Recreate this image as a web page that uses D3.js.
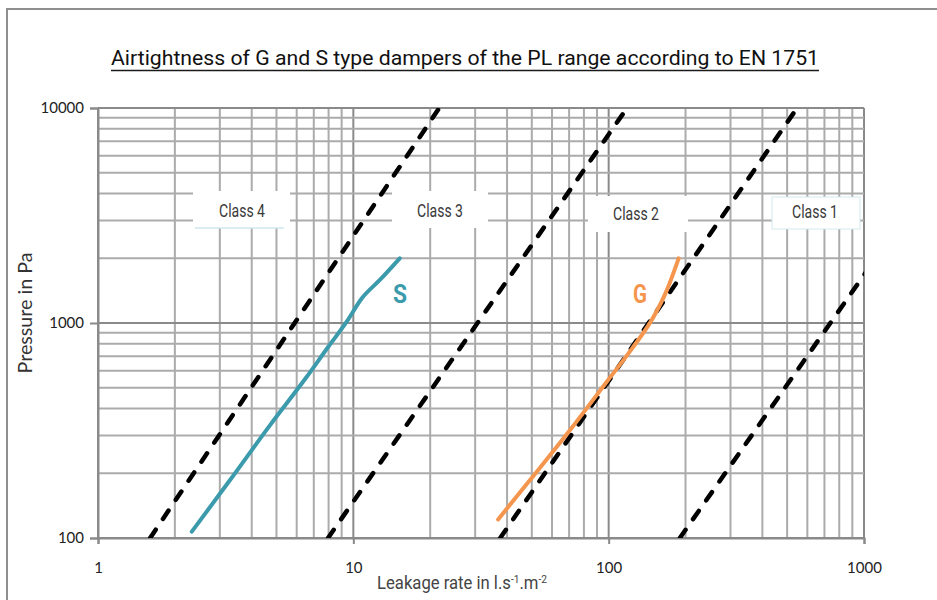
<!DOCTYPE html>
<html>
<head>
<meta charset="utf-8">
<script src="https://cdn.jsdelivr.net/npm/d3@7"></script>
<style>
  body { margin: 0; background: #fff; }
  .narrow { font-family: Roboto, "Liberation Sans", sans-serif; }
  .tick text { font-family: Lato, "Open Sans", sans-serif; }
</style>
</head>
<body>
<svg id="chart" width="937" height="600"></svg>
<script>
// Axis ticks and labels
const xTickValues = [1, 10, 100, 1000];
const xTickLabels = ["1", "10", "100", "1000"];
const yTickValues = [100, 1000, 10000];
const yTickLabels = ["100", "1000", "10000"];

// EN 1751 class limits: leakage (l/s/m²) at the two ends of the pressure range
const classNames = ["Class 4", "Class 3", "Class 2", "Class 1"];
const classPressure = [100, 10000];
const class4Leakage = [1.6, 21.7];
const class3Leakage = [7.96, 118];
const class2Leakage = [37.6, 547];
const class1Leakage = [190, 2870];

// Measured damper leakage: S type
const sLeakage  = [2.33, 3.29, 4.72, 6.57, 7.98, 9.42, 10.8, 12.7, 15.2];
const sPressure = [107, 186, 335, 562, 775, 1014, 1303, 1585, 2000];
// Measured damper leakage: G type
const gLeakage  = [36.9, 49.2, 70.6, 98.3, 125, 150, 169, 188];
const gPressure = [122, 186, 318, 533, 776, 1069, 1422, 2000];

const svg = d3.select("#chart");
const plotLeft = 98, plotRight = 864, plotTop = 108, plotBottom = 538;

const x = d3.scaleLog().domain([1, 1000]).range([plotLeft, plotRight]);
const y = d3.scaleLog().domain([100, 10000]).range([plotBottom, plotTop]);

// outer frame
svg.append("rect").attr("x", 7).attr("y", 9).attr("width", 1000).attr("height", 1000)
  .attr("fill", "none").attr("stroke", "#8f8f8f").attr("stroke-width", 2);

// title
svg.append("text").attr("class", "narrow")
  .attr("x", 465).attr("y", 65).attr("text-anchor", "middle")
  .attr("font-size", 21).attr("fill", "#111")
  .attr("textLength", 708).attr("lengthAdjust", "spacingAndGlyphs")
  .text("Airtightness of G and S type dampers of the PL range according to EN 1751");
svg.append("line").attr("x1", 111).attr("x2", 819).attr("y1", 70.5).attr("y2", 70.5)
  .attr("stroke", "#1a1a1a").attr("stroke-width", 1.3);

// grid
const isDecade = v => Math.abs(Math.log10(v) - Math.round(Math.log10(v))) < 1e-9;
const grid = svg.append("g");
grid.selectAll(".gx").data(x.ticks()).join("line")
  .attr("x1", d => x(d)).attr("x2", d => x(d)).attr("y1", plotTop).attr("y2", plotBottom)
  .attr("stroke", d => isDecade(d) ? "#8a8a8a" : "#ababab").attr("stroke-width", 2);
grid.selectAll(".gy").data(y.ticks()).join("line")
  .attr("x1", plotLeft).attr("x2", plotRight).attr("y1", d => y(d)).attr("y2", d => y(d))
  .attr("stroke", d => isDecade(d) ? "#8a8a8a" : "#ababab").attr("stroke-width", 2);

// axes
const xAxis = svg.append("g").attr("transform", `translate(0,${plotBottom})`)
  .call(d3.axisBottom(x).tickValues(xTickValues)
    .tickFormat((d, i) => xTickLabels[i]).tickSize(6).tickPadding(18));
const yAxis = svg.append("g").attr("transform", `translate(${plotLeft},0)`)
  .call(d3.axisLeft(y).tickValues(yTickValues)
    .tickFormat((d, i) => yTickLabels[i]).tickSize(8).tickPadding(6));
[xAxis, yAxis].forEach(a => {
  a.select(".domain").attr("stroke", "#8a8a8a").attr("stroke-width", 2);
  a.selectAll(".tick line").attr("stroke", "#8a8a8a").attr("stroke-width", 2);
  a.selectAll(".tick text").attr("font-size", 15).attr("fill", "#222");
});

// class label boxes
const labelBoxes = [
  { x: 193, y: 191, w: 97, h: 37, tx: 242, ty: 217, edge: "bottom" },
  { x: 392, y: 191, w: 96, h: 37, tx: 440, ty: 217, edge: null },
  { x: 588, y: 196, w: 100, h: 36, tx: 636, ty: 220, edge: null },
  { x: 772, y: 197, w: 88, h: 32, tx: 815, ty: 218, edge: "box" }
];
const boxes = svg.append("g");
labelBoxes.forEach((b, i) => {
  boxes.append("rect").attr("x", b.x).attr("y", b.y).attr("width", b.w).attr("height", b.h)
    .attr("fill", "#fff")
    .attr("stroke", b.edge === "box" ? "#d3e9ef" : "none").attr("stroke-width", 1);
  if (b.edge === "bottom") {
    boxes.append("line").attr("x1", b.x + 2).attr("x2", b.x + b.w - 6)
      .attr("y1", b.y + b.h).attr("y2", b.y + b.h)
      .attr("stroke", "#cde7ee").attr("stroke-width", 1.5);
  }
  boxes.append("text").attr("class", "narrow")
    .attr("x", b.tx).attr("y", b.ty).attr("text-anchor", "middle")
    .attr("font-size", 18).attr("fill", "#3a3a3a")
    .attr("textLength", 46).attr("lengthAdjust", "spacingAndGlyphs")
    .text(classNames[i]);
});

// class limit lines
svg.append("clipPath").attr("id", "plotClip").append("rect")
  .attr("x", plotLeft).attr("y", plotTop).attr("width", plotRight - plotLeft).attr("height", plotBottom - plotTop);
const classSeries = [class4Leakage, class3Leakage, class2Leakage, class1Leakage]
  .map(leak => leak.map((q, i) => [q, classPressure[i]]));
const line = d3.line().x(d => x(d[0])).y(d => y(d[1]));
svg.append("g").attr("clip-path", "url(#plotClip)")
  .selectAll("path").data(classSeries).join("path")
  .attr("d", line).attr("fill", "none").attr("stroke", "#000")
  .attr("stroke-width", 4.5).attr("stroke-dasharray", "10,13").attr("stroke-linecap", "round");

// measured curves
const sSeries = sLeakage.map((q, i) => [q, sPressure[i]]);
const gSeries = gLeakage.map((q, i) => [q, gPressure[i]]);
const curve = d3.line().x(d => x(d[0])).y(d => y(d[1])).curve(d3.curveMonotoneX);
svg.append("path").attr("d", curve(sSeries)).attr("fill", "none")
  .attr("stroke", "#3b9aab").attr("stroke-width", 4).attr("stroke-linecap", "round");
svg.append("path").attr("d", curve(gSeries)).attr("fill", "none")
  .attr("stroke", "#f5964e").attr("stroke-width", 4).attr("stroke-linecap", "round");

svg.append("text").attr("class", "narrow").attr("x", 400).attr("y", 303)
  .attr("text-anchor", "middle").attr("font-size", 25).attr("font-weight", "bold")
  .attr("textLength", 14).attr("lengthAdjust", "spacingAndGlyphs")
  .attr("fill", "#3b9aab").text("S");
svg.append("text").attr("class", "narrow").attr("x", 640).attr("y", 303)
  .attr("text-anchor", "middle").attr("font-size", 25).attr("font-weight", "bold")
  .attr("textLength", 14).attr("lengthAdjust", "spacingAndGlyphs")
  .attr("fill", "#f5964e").text("G");

// axis titles
const xTitleGroup = svg.append("g");
const xTitle = xTitleGroup.append("text").attr("class", "narrow")
  .attr("x", 0).attr("y", 0).attr("text-anchor", "middle")
  .attr("font-size", 18).attr("fill", "#444");
xTitle.append("tspan").text("Leakage rate in l.s");
xTitle.append("tspan").attr("font-size", 11).attr("dy", -6).text("-1");
xTitle.append("tspan").attr("dy", 6).text(".m");
xTitle.append("tspan").attr("font-size", 11).attr("dy", -6).text("-2");
const xTitleWidth = xTitle.node().getBBox().width;
xTitleGroup.attr("transform", `translate(462,589) scale(${170 / xTitleWidth},1)`);

svg.append("text")
  .attr("transform", "translate(32,313) rotate(-90)")
  .attr("text-anchor", "middle").attr("font-family", "Lato, 'Open Sans', sans-serif")
  .attr("font-size", 20).attr("fill", "#333")
  .attr("textLength", 121).attr("lengthAdjust", "spacingAndGlyphs")
  .text("Pressure in Pa");
</script>
</body>
</html>
